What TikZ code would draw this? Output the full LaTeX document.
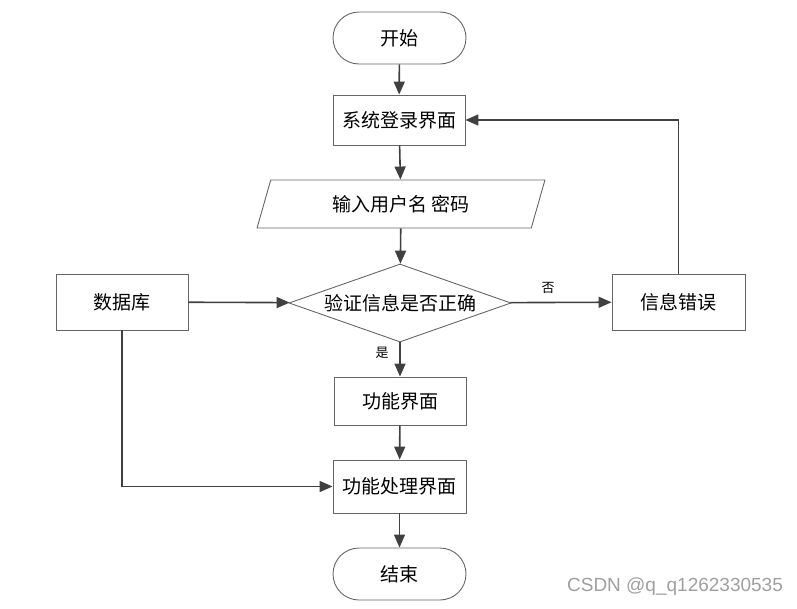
\documentclass[tikz,border=0pt]{standalone}
\usepackage{fontspec}
\setmainfont{Noto Sans CJK SC}
\newfontfamily\markfont{Liberation Sans}
\usetikzlibrary{positioning}
\usetikzlibrary{shapes.geometric,arrows.meta}
\usepackage{xcolor}
\definecolor{edgegray}{HTML}{404040}
\definecolor{boxgray}{HTML}{666666}

\begin{document}
\begin{tikzpicture}[x=1pt,y=-1pt,
  proc node/.style={shape=rectangle,draw=boxgray,line width=0.9pt,minimum width=132,minimum height=50,inner sep=0,font=\fontsize{19}{21}\selectfont},
  term node/.style={proc node,rounded corners=26,minimum width=133,minimum height=52},
  io node/.style={shape=trapezium,trapezium left angle=68,trapezium right angle=112,trapezium stretches=true,draw=boxgray,line width=0.9pt,minimum width=288,minimum height=48,inner sep=0,font=\fontsize{19}{21}\selectfont},
  dec node/.style={shape=diamond,aspect=2.85,draw=boxgray,line width=0.9pt,minimum width=222,minimum height=78,inner sep=0,font=\fontsize{19}{21}\selectfont},
  flow/.style={draw=edgegray,line width=1.6pt,-{Triangle[length=13pt,width=11pt]}},
  lbl/.style={font=\fontsize{13}{15}\selectfont,inner sep=0},
  ]
    \useasboundingbox (0,0) rectangle (797,608);
    \node[term node] (start) at (399.5,38){开始};
    \node[proc node] (login) at (399,120){系统登录界面};
    \node[io node] (input) at (401,204){输入用户名 密码};
    \node[dec node] (check) at (400,303){验证信息是否正确};
    \node[proc node, minimum height=56] (db) at (122,302){数据库};
    \node[proc node, minimum width=133, minimum height=56] (err) at (678.5,302){信息错误};
    \node[proc node, minimum height=48] (func) at (400,401){功能界面};
    \node[proc node, minimum width=133, minimum height=53] (work) at (399.5,486.5){功能处理界面};
    \node[term node] (stop) at (399.5,574){结束};
    \node[lbl] (no) at (548,288){否};
    \node[lbl] (yes) at (382,353){是};
    \node[font=\fontsize{19}{21}\selectfont\markfont,text=gray!75,inner sep=0] (mark) at (675,587){CSDN @q\_q1262330535};

    %main path
    \draw[flow] (start) -- (login);
    \draw[flow] (login) -- (input);
    \draw[flow] (input) -- (check);
    \draw[flow] (check) -- (func);
    \draw[flow] (func) -- (work);
    \draw[flow] (work) -- (stop);
    %side paths
    \draw[flow] (db) -- (check);
    \draw[flow] (check) -- (err);
    \draw[flow] (err.north) |- (login.east);
    \draw[flow] (db.south) |- (work.west);
\end{tikzpicture}
\end{document}
